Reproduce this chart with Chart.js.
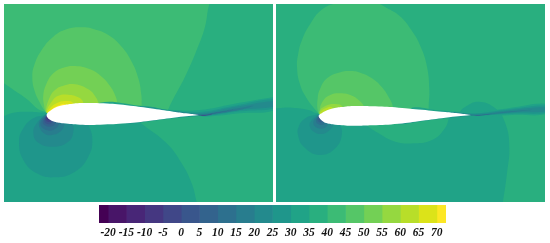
<!DOCTYPE html>
<html>
<head>
<meta charset="utf-8">
<script src="https://cdn.jsdelivr.net/npm/chart.js"></script>
<style>
  html, body { margin: 0; background: #fff; overflow: hidden; }
  canvas { position: absolute; filter: blur(0.45px); }
  #fieldLeft { left: 4px; top: 4px; }
  #fieldRight { left: 276px; top: 4px; }
  #colorbar { left: 99px; top: 205px; }
</style>
</head>
<body>
<canvas id="fieldLeft" width="269" height="198"></canvas>
<canvas id="fieldRight" width="269" height="198"></canvas>
<canvas id="colorbar" width="347" height="36"></canvas>

<script>
// colour levels, same order as the colorbar cells
const levelColors = ['#440154','#481568','#482677','#453781','#404788','#39568C','#33638D','#2D708E','#287D8E','#238A8D',
                     '#1F968B','#20A387','#29AF7F','#3CBB75','#55C667','#73D055','#95D840','#B8DE29','#DCE319','#FDE725'];
const levelEdges = [-22.5,-20,-15,-10,-5,0,5,10,15,20,25,30,35,40,45,50,55,60,65,70,72.5];
const tickValues = [-20,-15,-10,-5,0,5,10,15,20,25,30,35,40,45,50,55,60,65,70];

// field window, leading edge at 0,0 and chord about 457 units
const xRange = [-126, 681];
const yRange = [-261, 333];
const backgroundLevel = 12;

// LEFT FIELD: contour outlines
const left40 = [[162,5],[-3,10],[-63,52],[-126,95],[-148,110],[-160,345],[502,345],[490,332],[477,265],[452,195],[417,115],[375,35],[362,5]];
const left45 = [[287,5],[287,30],[286,60],[277,110],[257,160],[227,205],[187,240],[142,258],[107,263],[62,257],[22,235],[-13,195],[-35,150],[-41,115],[-35,75],[-20,40],[-3,12],[10,0]];
const left50 = [[214,5],[214,35],[207,60],[192,87],[167,115],[132,137],[87,147],[52,142],[22,125],[2,95],[-8,60],[-6,30],[0,8],[10,0]];
const left55 = [[157,5],[157,35],[147,57],[127,77],[87,92],[52,88],[27,75],[10,50],[0,8],[10,0]];
const left60 = [[112,5],[112,37],[97,53],[67,61],[37,58],[17,40],[2,10],[10,0]];
const left65 = [[82,5],[82,35],[57,42],[32,35],[12,20],[2,3],[10,0]];
const left70 = [[57,5],[57,32],[34,27],[17,17],[4,3],[10,0]];
const left30 = [[150,0],[-3,7],[-58,10],[-98,7],[-126,-3],[-148,-12],[-148,-290],[460,-290],[452,-260],[437,-205],[407,-145],[362,-85],[292,-30],[262,-5]];
const left25 = [[-1,0],[-38,-10],[-68,-40],[-81,-80],[-68,-135],[-28,-175],[27,-187],[87,-170],[127,-125],[139,-75],[127,-30],[112,-15],[60,0]];
const left20 = [[-1,0],[-28,-25],[-38,-55],[-23,-83],[22,-95],[67,-80],[82,-50],[77,-23],[50,0]];
const left15 = [[-1,2],[-20,-20],[-18,-40],[-3,-57],[17,-60],[40,-52],[54,-33],[52,-19],[40,0]];
const left10 = [[0,-1],[-16,-20],[-12,-37],[10,-47],[30,-40],[40,-25],[37,-17],[30,0]];
const left5 = [[1,-3],[-10,-20],[-3,-31],[12,-35],[27,-27],[27,-13],[20,0]];
const left0 = [[2,-3],[-5,-17],[4,-27],[17,-25],[22,-13],[15,0]];
const leftMinus5 = [[2,-3],[-2,-13],[7,-21],[18,-17],[17,-9],[12,0]];
const leftMinus10 = [[2,-2],[1,-10],[9,-16],[15,-11],[10,0]];
const leftMinus20 = [[3,-2],[5,-9],[12,-12],[10,-1]];
const leftWake30 = [[162,5],[162,37],[282,28],[382,15],[462,15],[562,33],[680,53],[692,53],[692,17],[582,5],[482,-5],[459,-3]];
const leftWake25 = [[282,5],[282,26],[382,13],[462,9],[562,27],[692,47],[692,23],[582,11],[482,-3],[459,-1]];
const leftWake20 = [[382,5],[382,11],[462,5],[562,23],[692,42],[692,27],[582,15],[492,-1],[459,-1]];
const leftWake15 = [[422,3],[472,3],[562,18],[622,28],[582,16],[492,2],[459,0]];
const leftWake5 = [[432,2],[472,1],[522,9],[562,16],[512,6],[472,-1],[459,-1]];
const leftWakeMinus5 = [[447,1],[477,0],[502,4],[477,-2],[459,-1]];
const leftLowerRim = [[242,-20],[242,-27],[312,-19],[382,-10],[459,-2],[382,0]];
const leftAirfoil = [[459,0],[420,5],[382,10],[312,20],[242,29],[172,35],[112,36],[80,34],[50,29],[27,22],[12,12],[4,5],[2,-2],[5,-8],[12,-14],[25,-20],[52,-25],[102,-29],[162,-29],[242,-25],[312,-17],[382,-8],[459,0]];

// RIGHT FIELD
const right30 = [[150,-5],[-3,5],[-28,15],[-78,22],[-126,20],[-148,18],[-148,-290],[550,-290],[555,-260],[567,-175],[574,-95],[562,-25],[532,20],[482,40],[442,25],[424,7],[420,-5]];
const rightLobe35 = [[150,-25],[142,-27],[182,-55],[232,-80],[292,-85],[342,-75],[377,-45],[392,-10],[385,0]];
const right40 = [[332,5],[332,25],[334,75],[327,145],[308,205],[280,255],[245,297],[205,322],[172,338],[112,350],[52,335],[10,315],[-22,275],[-48,225],[-60,180],[-63,145],[-55,95],[-35,52],[-3,10],[10,-5]];
const right45 = [[224,5],[224,27],[214,50],[192,83],[162,110],[127,127],[97,132],[62,127],[27,110],[7,80],[-1,50],[0,10],[10,-5]];
const right50 = [[137,5],[137,27],[124,43],[102,58],[67,65],[37,60],[17,45],[5,15],[10,-5]];
const right55 = [[74,5],[74,25],[52,33],[22,27],[4,10],[10,-5]];
const right60 = [[42,5],[42,23],[22,20],[5,5],[10,-5]];
const right25 = [[-1,2],[-38,-10],[-58,-35],[-60,-60],[-43,-95],[5,-120],[52,-100],[72,-55],[62,-20],[50,0]];
const right20 = [[-1,0],[-20,-17],[-25,-33],[-13,-50],[10,-57],[32,-48],[47,-27],[42,-15],[30,0]];
const right15 = [[0,-2],[-13,-17],[-10,-33],[10,-41],[27,-33],[32,-17],[20,0]];
const right10 = [[1,-3],[-6,-17],[0,-27],[12,-30],[22,-23],[22,-11],[15,-2]];
const right5 = [[2,-3],[-2,-13],[5,-22],[14,-21],[17,-11],[12,-2]];
const right0 = [[3,-4],[3,-13],[10,-16],[12,-10],[8,-3]];
const rightWake30 = [[282,0],[282,22],[362,14],[462,9],[562,19],[692,33],[692,5],[582,0],[482,-5],[459,-3],[362,-10]];
const rightWake25 = [[362,5],[362,11],[462,5],[562,16],[692,28],[692,8],[582,4],[482,-2],[459,-1]];
const rightWake20 = [[402,3],[402,8],[472,3],[562,13],[692,23],[692,12],[582,7],[487,-1],[459,-1]];
const rightWake15 = [[432,3],[482,1],[562,10],[642,16],[582,9],[487,0],[459,-1]];
const rightWake5 = [[447,1],[482,0],[522,4],[482,-2],[459,-1]];
const rightLowerRim = [[242,-20],[242,-28],[312,-19],[382,-10],[459,-2],[382,0]];
const rightAirfoil = [[459,0],[420,5],[382,9],[312,16],[242,22],[172,26],[112,27],[80,25],[50,21],[27,14],[12,6],[4,1],[2,-3],[5,-10],[12,-17],[25,-24],[52,-29],[102,-32],[162,-31],[242,-26],[312,-17],[382,-8],[459,0]];

// painting order, outer levels first. [outline, colour level]
const leftLayers = [[left40,13],[left45,14],[left50,15],[left55,16],[left60,17],[left65,18],[left70,19],
  [left30,11],[left25,10],[left20,9],[left15,8],[left10,7],[left5,6],[left0,5],[leftMinus5,4],[leftMinus10,3],[leftMinus20,1],
  [leftWake30,11],[leftWake25,10],[leftWake20,9],[leftWake15,8],[leftWake5,6],[leftWakeMinus5,4],[leftLowerRim,10]];
const rightLayers = [[right30,11],[rightLobe35,12],[right40,13],[right45,14],[right50,15],[right55,16],[right60,17],
  [right25,10],[right20,9],[right15,8],[right10,7],[right5,6],[right0,5],
  [rightWake30,11],[rightWake25,10],[rightWake20,9],[rightWake15,8],[rightWake5,6],[rightLowerRim,10]];

function makeField(canvasId, layers, airfoil) {
    const canvas = document.getElementById(canvasId);
    canvas.style.backgroundColor = levelColors[backgroundLevel];

    const toPoints = pts => pts.map(p => ({x: p[0], y: p[1]}));
    const datasets = layers.map(l => ({
        data: toPoints(l[0]),
        backgroundColor: levelColors[l[1]],
        fill: 'shape',
        showLine: true,
        borderWidth: 0,
        pointRadius: 0,
        tension: 0.45
    }));
    // wing on top of everything
    datasets.push({
        data: toPoints(airfoil),
        backgroundColor: '#ffffff',
        fill: 'shape',
        showLine: true,
        borderWidth: 0,
        pointRadius: 0,
        tension: 0.45
    });

    // Chart.js draws the first dataset on top, so reverse via order
    datasets.forEach((d, i) => { d.order = datasets.length - i; });

    new Chart(canvas, {
        type: 'scatter',
        data: {datasets: datasets},
        options: {
            responsive: false,
            animation: false,
            layout: {padding: 0},
            elements: {line: {capBezierPoints: false}},
            plugins: {legend: {display: false}, tooltip: {enabled: false}, filler: {drawTime: 'beforeDatasetDraw'}},
            scales: {
                x: {type: 'linear', display: false, min: xRange[0], max: xRange[1]},
                y: {type: 'linear', display: false, min: yRange[0], max: yRange[1]}
            }
        }
    });
}

makeField('fieldLeft', leftLayers, leftAirfoil);
makeField('fieldRight', rightLayers, rightAirfoil);

// COLORBAR: one floating bar per level cell
new Chart(document.getElementById('colorbar'), {
    type: 'bar',
    data: {
        labels: ['level'],
        datasets: levelColors.map((c, i) => ({
            data: [[levelEdges[i], levelEdges[i + 1]]],
            backgroundColor: c,
            borderWidth: 0,
            grouped: false,
            barPercentage: 1,
            categoryPercentage: 1
        }))
    },
    options: {
        indexAxis: 'y',
        responsive: false,
        animation: false,
        layout: {padding: 0},
        plugins: {legend: {display: false}, tooltip: {enabled: false}},
        scales: {
            y: {display: false},
            x: {
                type: 'linear',
                min: levelEdges[0],
                max: levelEdges[levelEdges.length - 1],
                afterBuildTicks: scale => { scale.ticks = tickValues.map(v => ({value: v})); },
                // labels stay inside the bar width, no side padding needed
                afterFit: scale => { scale.paddingLeft = 0; scale.paddingRight = 0; },
                grid: {display: false, drawTicks: false},
                border: {display: false},
                ticks: {
                    autoSkip: false,
                    maxRotation: 0,
                    padding: 3,
                    color: '#111',
                    font: {family: 'Liberation Serif', size: 11.5, style: 'italic', weight: 'bold'},
                    callback: v => String(v)
                }
            }
        }
    }
});
</script>
</body>
</html>
